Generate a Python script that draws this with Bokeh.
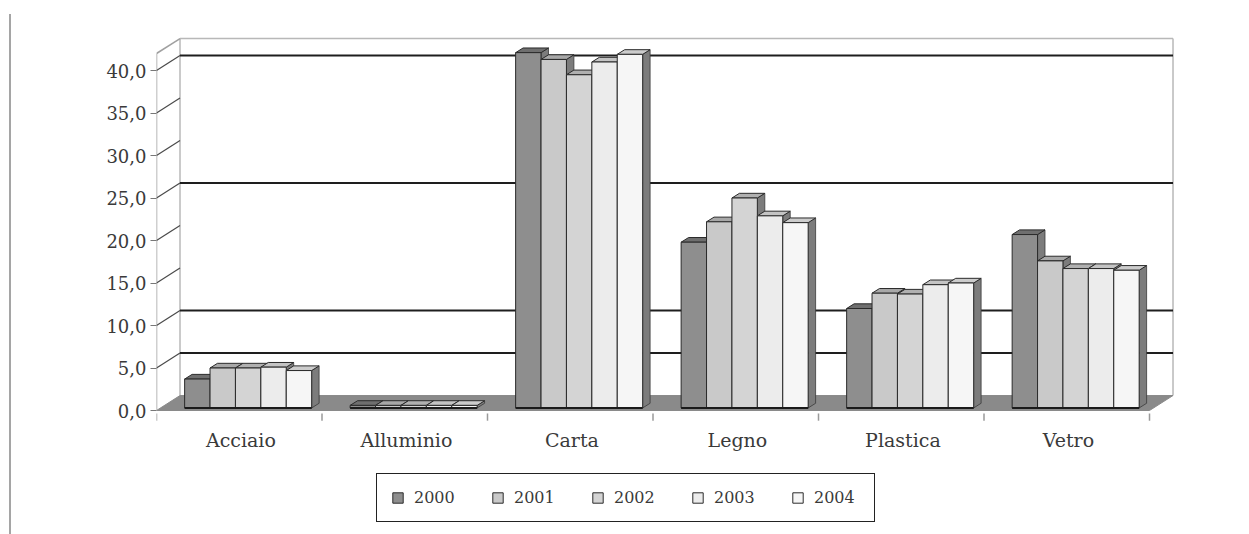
from bokeh.plotting import figure
from bokeh.models import FixedTicker, Legend, LegendItem, ColumnDataSource, Div, Range1d
from bokeh.core.properties import value
from bokeh.layouts import row
from bokeh.embed import file_html
from bokeh.resources import INLINE

# ---- data -------------------------------------------------------------
categories = ["Acciaio", "Alluminio", "Carta", "Legno", "Plastica", "Vetro"]
years = ["2000", "2001", "2002", "2003", "2004"]
v2000 = [3.4, 0.3, 41.8, 19.5, 11.7, 20.4]
v2001 = [4.7, 0.3, 41.0, 21.9, 13.5, 17.3]
v2002 = [4.7, 0.3, 39.2, 24.7, 13.4, 16.4]
v2003 = [4.8, 0.3, 40.7, 22.6, 14.5, 16.4]
v2004 = [4.4, 0.3, 41.6, 21.8, 14.7, 16.2]
series = [v2000, v2001, v2002, v2003, v2004]

y_ticks = [0, 5, 10, 15, 20, 25, 30, 35, 40]
y_tick_labels = ["0,0", "5,0", "10,0", "15,0", "20,0", "25,0", "30,0", "35,0", "40,0"]
wall_grid = [5, 10, 25, 40]

# ---- style ------------------------------------------------------------
front_colors = ["#8e8e8e", "#c9c9c9", "#d4d4d4", "#ececec", "#f6f6f6"]
top_colors = ["#6f6f6f", "#a8a8a8", "#b0b0b0", "#c4c4c4", "#cccccc"]
side_color = "#7c7c7c"
floor_color = "#8a8a8a"
text_color = "#3a3a3a"
FONT = "DejaVu Serif"

# pseudo-3D geometry (data units)
DX, DY = 0.142, 1.76          # depth offset of back wall
WALL_TOP = 42.0
BAR_OFF, BAR_W = 0.17, 0.1535  # bar placement inside a category slot
BASE = 0.3                     # bars sit slightly behind the front edge
BDX, BDY = 0.045, 0.55         # depth of a single bar
n = len(categories)

# frame spans down to the bottom of the page so the legend fits inside it
p = figure(width=1237, height=534, x_range=Range1d(0, 6.151), y_range=Range1d(-14.588, 44.706),
           output_backend="svg", toolbar_location=None, x_axis_location=None,
           min_border_left=145, min_border_right=74, min_border_top=30, min_border_bottom=0)
p.outline_line_color = None
p.xgrid.visible = False
p.ygrid.visible = False
p.background_fill_color = "white"

# back wall edges
p.segment(x0=[DX, DX, n + DX], y0=[DY, DY + WALL_TOP, DY],
          x1=[DX, n + DX, n + DX], y1=[DY + WALL_TOP, DY + WALL_TOP, DY + WALL_TOP],
          line_color="#b8b8b8", line_width=1.5)
# gridlines on back wall
p.segment(x0=[DX] * len(wall_grid), y0=[g + DY for g in wall_grid],
          x1=[n + DX] * len(wall_grid), y1=[g + DY for g in wall_grid],
          line_color="#1e1e1e", line_width=2)
# floor
p.patch(x=[0, n, n + DX, DX], y=[0, 0, DY, DY], fill_color=floor_color, line_color=floor_color)
# side wall: front axis line, top slant and tick slants
p.segment(x0=[0, 0], y0=[0, WALL_TOP], x1=[0, DX], y1=[WALL_TOP, WALL_TOP + DY],
          line_color="#a0a0a0", line_width=1.5)
p.segment(x0=[0] * (len(y_ticks) - 1), y0=y_ticks[1:],
          x1=[DX] * (len(y_ticks) - 1), y1=[t + DY for t in y_ticks[1:]],
          line_color="#4a4a4a", line_width=1.2)

# bars
fl, fr, fb, ft, fc = [], [], [], [], []
txs, tys, tcs = [], [], []
sxs, sys_ = [], []
for i in range(n):
    for j in range(len(years)):
        v = series[j][i]
        l = i + BAR_OFF + j * BAR_W
        r = l + BAR_W
        b = BASE
        t = BASE + v
        fl.append(l); fr.append(r); fb.append(b); ft.append(t); fc.append(front_colors[j])
        txs.append([l, r, r + BDX, l + BDX]); tys.append([t, t, t + BDY, t + BDY]); tcs.append(top_colors[j])
        sxs.append([r, r + BDX, r + BDX, r]); sys_.append([b, b + BDY, t + BDY, t])

p.patches(xs=sxs, ys=sys_, fill_color=side_color, line_color="#3a3a3a", line_width=0.8)
p.patches(xs=txs, ys=tys, fill_color=tcs, line_color="#2a2a2a", line_width=1)
front_src = ColumnDataSource(dict(left=fl, right=fr, bottom=fb, top=ft, color=fc))
front_r = p.quad(left="left", right="right", bottom="bottom", top="top", fill_color="color",
                 line_color="#2a2a2a", line_width=1, source=front_src)
# heavier base line under each group of bars
p.segment(x0=[i + BAR_OFF for i in range(n)], y0=[BASE] * n,
          x1=[i + BAR_OFF + len(years) * BAR_W for i in range(n)], y1=[BASE] * n,
          line_color="#1a1a1a", line_width=2)

# y axis
yax = p.yaxis[0]
yax.ticker = FixedTicker(ticks=y_ticks)
yax.major_label_overrides = {t: lab for t, lab in zip(y_ticks, y_tick_labels)}
yax.axis_line_color = None
yax.major_tick_line_color = "#777777"
yax.major_tick_out = 6
yax.major_tick_in = 0
yax.minor_tick_line_color = None
yax.major_label_standoff = 4
yax.major_label_text_font = FONT
yax.major_label_text_font_size = "18px"
yax.major_label_text_color = text_color

# category axis below the floor: slot boundary ticks and centred names
bounds = list(range(n + 1))
p.segment(x0=bounds, y0=[-0.35] * len(bounds), x1=bounds, y1=[-1.2] * len(bounds),
          line_color="#9a9a9a", line_width=1.5)
centers = [i + 0.51 for i in range(n)]
p.text(x=centers, y=[-3.45] * n, text=categories, text_align="center", text_baseline="middle",
       text_font=value(FONT), text_font_size="19px", text_color=text_color)

legend = Legend(items=[LegendItem(label=y, renderers=[front_r], index=j) for j, y in enumerate(years)],
                orientation="horizontal", location=(220, 12),
                glyph_width=13, glyph_height=13, label_standoff=10, label_width=46, spacing=31,
                padding=14, margin=0,
                label_text_font=FONT, label_text_font_size="16px", label_text_color=text_color,
                border_line_color="#222222", border_line_width=1.8, border_line_alpha=1.0,
                background_fill_color="white", background_fill_alpha=1)
p.add_layout(legend)

edge = Div(text="", width=11, height=520, margin=(14, 0, 0, 0),
           styles={"border-right": "2px solid #a5a5a5"})
layout = row(edge, p, spacing=0)

open("out.html", "w").write(file_html(layout, INLINE))
